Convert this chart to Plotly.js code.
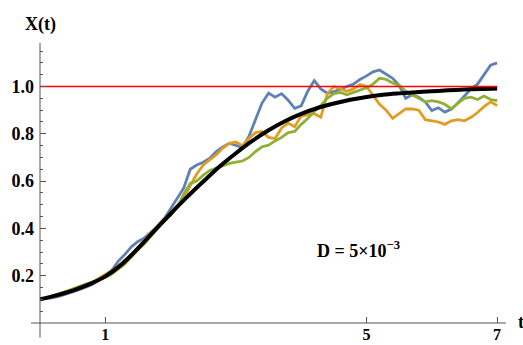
<!DOCTYPE html>
<html>
<head>
<meta charset="utf-8">
<script src="https://cdn.plot.ly/plotly-3.0.1.min.js"></script>
<style>html,body{margin:0;padding:0;background:#fff;}#chart{width:523px;height:345px;}</style>
</head>
<body>
<div id="chart"></div>
<script>
// time grid of the sample paths
var tPath = [0.0,0.1,0.2,0.3,0.4,0.5,0.6,0.7,0.8,0.9,1.0,1.1,1.2,1.3,1.4,1.5,1.6,1.7,1.8,1.9,2.0,2.1,2.2,2.3,2.4,2.5,2.6,2.7,2.8,2.9,3.0,3.1,3.2,3.3,3.4,3.5,3.6,3.7,3.8,3.9,4.0,4.1,4.2,4.3,4.4,4.5,4.6,4.7,4.8,4.9,5.0,5.1,5.2,5.3,5.4,5.5,5.6,5.7,5.8,5.9,6.0,6.1,6.2,6.3,6.4,6.5,6.6,6.7,6.8,6.9,7.0];
var bluePath = [0.100,0.102,0.107,0.114,0.122,0.130,0.141,0.151,0.163,0.180,0.198,0.224,0.262,0.290,0.322,0.345,0.360,0.385,0.410,0.440,0.482,0.525,0.570,0.650,0.668,0.680,0.697,0.725,0.745,0.760,0.752,0.742,0.790,0.860,0.930,0.972,0.955,0.970,0.942,0.908,0.918,0.980,1.025,0.990,0.972,0.978,0.990,1.000,1.010,1.030,1.045,1.062,1.070,1.052,1.035,1.005,0.950,0.965,0.955,0.935,0.898,0.910,0.892,0.905,0.930,0.960,0.990,1.010,1.050,1.090,1.100];
var orangePath = [0.100,0.104,0.111,0.119,0.127,0.135,0.145,0.156,0.172,0.188,0.205,0.222,0.242,0.265,0.290,0.320,0.350,0.380,0.410,0.440,0.465,0.495,0.528,0.580,0.630,0.668,0.690,0.712,0.740,0.760,0.765,0.750,0.780,0.805,0.810,0.785,0.780,0.825,0.845,0.830,0.875,0.880,0.885,0.870,0.970,1.000,0.990,0.980,0.990,1.008,1.000,0.965,0.925,0.900,0.865,0.885,0.905,0.905,0.900,0.860,0.855,0.850,0.840,0.855,0.860,0.855,0.870,0.890,0.915,0.935,0.920];
var greenPath = [0.100,0.107,0.115,0.124,0.134,0.145,0.156,0.165,0.173,0.182,0.193,0.207,0.227,0.250,0.280,0.310,0.335,0.370,0.400,0.430,0.455,0.490,0.545,0.590,0.600,0.625,0.645,0.655,0.665,0.675,0.680,0.685,0.700,0.725,0.745,0.752,0.770,0.785,0.805,0.810,0.840,0.865,0.895,0.920,0.950,0.970,0.975,0.965,0.975,0.986,0.995,1.010,1.035,1.030,1.015,1.005,0.980,0.965,0.950,0.935,0.940,0.935,0.925,0.905,0.930,0.950,0.955,0.945,0.960,0.945,0.940];
// deterministic solution
var tMean = [0,0.25,0.5,0.75,1.0,1.25,1.5,1.75,2.0,2.25,2.5,2.75,3.0,3.25,3.5,3.75,4.0,4.25,4.5,4.75,5.0,5.25,5.5,5.75,6.0,6.25,6.5,6.75,7.0];
var xMean = [0.100,0.117,0.137,0.163,0.197,0.248,0.315,0.390,0.462,0.532,0.598,0.662,0.718,0.770,0.815,0.853,0.884,0.909,0.928,0.944,0.956,0.965,0.971,0.976,0.980,0.984,0.987,0.990,0.992];
// carrying capacity
var tCap = [0,7];
var xCap = [1,1];
var yTickVals = [0.2,0.4,0.6,0.8,1.0];
var yTickText = ["0.2","0.4","0.6","0.8","1.0"];
var xTickVals = [1,5,7];
var xTickText = ["1","5","7"];

var FONT = "Liberation Serif, Times New Roman, serif";
var traces = [
  {x:tPath, y:bluePath, mode:"lines", line:{color:"#5E81B5", width:2.8}, hoverinfo:"skip"},
  {x:tPath, y:orangePath, mode:"lines", line:{color:"#E19C24", width:2.8}, hoverinfo:"skip"},
  {x:tPath, y:greenPath, mode:"lines", line:{color:"#8FB032", width:2.8}, hoverinfo:"skip"},
  {x:tMean, y:xMean, mode:"lines", line:{color:"#000000", width:4, shape:"spline"}, hoverinfo:"skip"},
  {x:tCap, y:xCap, mode:"lines", line:{color:"#FF0000", width:1.6}, hoverinfo:"skip"}
];
var axCol = "#555555";
var layout = {
  width:523, height:345,
  margin:{l:40, r:17, t:43, b:22, pad:0},
  paper_bgcolor:"#ffffff", plot_bgcolor:"#ffffff",
  showlegend:false,
  xaxis:{range:[0,7.136], showgrid:false, zeroline:false, showline:false,
    tickmode:"array", tickvals:xTickVals, ticktext:xTickText,
    ticks:"inside", ticklen:6, tickwidth:1, tickcolor:axCol,
    tickfont:{family:FONT, size:16, color:"#000", weight:"bold"}, ticklabelstandoff:0},
  yaxis:{range:[0,1.184], showgrid:false, zeroline:false, showline:false,
    tickmode:"array", tickvals:yTickVals, ticktext:yTickText,
    ticks:"inside", ticklen:6, tickwidth:1, tickcolor:axCol,
    minor:{tickmode:"linear", tick0:0, dtick:0.05, ticks:"inside", ticklen:3, tickcolor:axCol, showgrid:false},
    tickfont:{family:FONT, size:18, color:"#000", weight:"bold"}, ticklabelstandoff:5},
  shapes:[
    {type:"line", xref:"paper", yref:"paper", x0:-9/466, x1:1, y0:0, y1:0, line:{color:axCol, width:1}},
    {type:"line", xref:"paper", yref:"paper", x0:0, x1:0, y0:-14.5/280, y1:1, line:{color:axCol, width:1}}
  ],
  annotations:[
    {xref:"paper", yref:"paper", x:0, y:(323-24)/280, text:"<b>X(t)</b>", showarrow:false, xanchor:"center", yanchor:"middle", font:{family:FONT, size:18, color:"#000"}},
    {xref:"paper", yref:"paper", x:(516-40)/466, y:(323-322)/280, text:"<b>t</b>", showarrow:false, xanchor:"left", yanchor:"middle", font:{family:FONT, size:18, color:"#000"}},
    {xref:"paper", yref:"paper", x:(315-40)/466, y:(323-249)/280, text:"<b>D = 5×10<sup>−3</sup></b>", showarrow:false, xanchor:"left", yanchor:"middle", font:{family:FONT, size:18, color:"#000"}}
  ]
};
Plotly.newPlot("chart", traces, layout, {staticPlot:true, displayModeBar:false});
</script>
</body>
</html>
